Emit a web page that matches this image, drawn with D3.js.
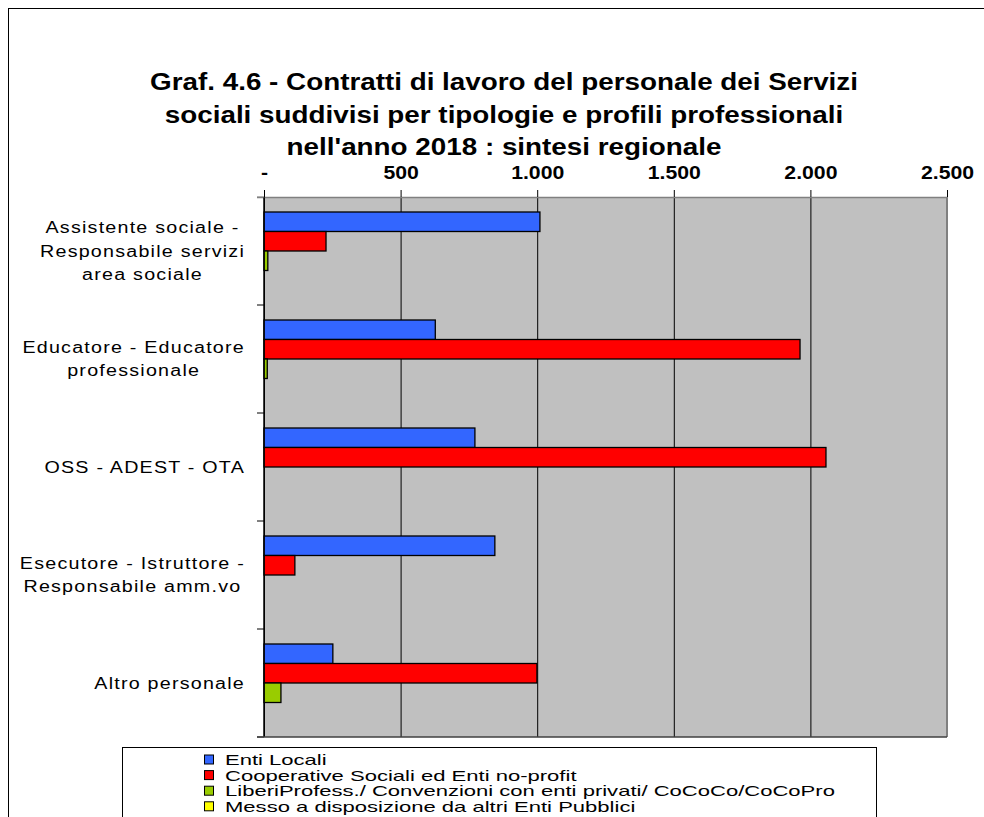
<!DOCTYPE html>
<html>
<head>
<meta charset="utf-8">
<script src="https://cdn.jsdelivr.net/npm/d3@7"></script>
<style>
  body { margin: 0; background: #fff; }
  svg { display: block; font-family: "Liberation Sans", Arial, sans-serif; }
</style>
</head>
<body>
<svg id="chart"></svg>
<script>
// categories (multi-line labels as in the original)
let categories = [
    ['Assistente sociale -', 'Responsabile servizi', 'area sociale'],
    ['Educatore - Educatore', 'professionale'],
    ['OSS - ADEST - OTA'],
    ['Esecutore  - Istruttore  -', 'Responsabile amm.vo'],
    ['Altro personale']
]
let seriesNames = [
    'Enti Locali',
    'Cooperative Sociali ed Enti no-profit',
    'LiberiProfess./ Convenzioni con enti privati/ CoCoCo/CoCoPro',
    'Messo a disposizione da altri Enti Pubblici'
]
let entiLocali = [1010, 627, 772, 845, 252]
let cooperative = [227, 1962, 2057, 113, 999]
let liberiProf = [14, 12, 0, 0, 62]
let messoDisp = [0, 0, 0, 0, 0]
let xTicks = [0, 500, 1000, 1500, 2000, 2500]
let titleLines = [
    'Graf. 4.6 - Contratti di lavoro del personale dei Servizi',
    'sociali suddivisi per tipologie e profili professionali',
    "nell'anno 2018 : sintesi regionale"
]

let colors = ['#3366ff', '#ff0000', '#99cc00', '#ffff00']
let seriesValues = [entiLocali, cooperative, liberiProf, messoDisp]

let width = 984
let height = 817
let plot = {left: 264, right: 947, top: 197, bottom: 737}

let svg = d3.select('#chart').attr('width', width).attr('height', height)

// outer frame of the chart object
svg.append('rect')
   .attr('x', 8.5).attr('y', 8.5)
   .attr('width', 1000).attr('height', 1000)
   .attr('fill', '#fff').attr('stroke', '#000')

// helper: text stretched horizontally like the source picture
let stretchText = (g, x, y, sx, txt) => {
    return g.append('text')
            .attr('transform', 'translate(' + x + ',' + y + ') scale(' + sx + ',1)')
            .text(txt)
}

// title
let titleG = svg.append('g')
               .attr('font-size', 23).attr('font-weight', 'bold')
               .attr('text-anchor', 'middle')
titleLines.forEach((t, i) => {
    stretchText(titleG, 504, 90 + i * 32.5, 1.21, t)
})

// scales
let xScale = d3.scaleLinear().domain([0, 2500]).range([plot.left, plot.right])
let yScale = d3.scaleBand().domain(d3.range(categories.length)).range([plot.top, plot.bottom])
let inner = d3.scaleBand().domain(d3.range(seriesValues.length))
              .range([15, yScale.bandwidth() - 15])

// plot background
svg.append('rect')
   .attr('x', plot.left).attr('y', plot.top)
   .attr('width', plot.right - plot.left).attr('height', plot.bottom - plot.top)
   .attr('fill', '#c0c0c0')

// vertical gridlines
svg.append('g')
   .attr('transform', 'translate(0,' + plot.top + ')')
   .call(d3.axisTop(xScale).tickValues(xTicks).tickSize(-(plot.bottom - plot.top)).tickFormat(''))
   .call(g => g.select('.domain').remove())
   .call(g => g.selectAll('line').attr('stroke', '#000'))

// right and top border of the plot area
svg.append('line')
   .attr('x1', plot.right).attr('x2', plot.right)
   .attr('y1', plot.top).attr('y2', plot.bottom)
   .attr('stroke', '#808080').attr('stroke-width', 2)
svg.append('line')
   .attr('x1', plot.left - 7).attr('x2', plot.right)
   .attr('y1', plot.top + 0.5).attr('y2', plot.top + 0.5)
   .attr('stroke', '#808080').attr('stroke-width', 1.5)

// bars
let rows = []
seriesValues.forEach((vals, s) => {
    vals.forEach((v, c) => {
        if (v > 0) rows.push({s: s, c: c, v: v})
    })
})
svg.append('g').selectAll('rect')
   .data(rows)
   .enter()
   .append('rect')
   .attr('x', xScale(0))
   .attr('y', d => yScale(d.c) + inner(d.s))
   .attr('width', d => xScale(d.v) - xScale(0))
   .attr('height', inner.bandwidth())
   .attr('fill', d => colors[d.s])
   .attr('stroke', '#000').attr('stroke-width', 1.3)

// top axis: ticks and labels
let itFormat = d3.formatLocale({decimal: ',', thousands: '.', grouping: [3], currency: ['€', '']}).format(',d')
let xAxis = d3.axisTop(xScale)
              .tickValues(xTicks)
              .tickSize(7)
              .tickPadding(11)
              .tickFormat(d => d === 0 ? '-' : itFormat(d))
let xAxisG = svg.append('g')
   .attr('transform', 'translate(0,' + plot.top + ')')
   .call(xAxis)
xAxisG.select('.domain').remove()
xAxisG.selectAll('line').attr('stroke', '#000')
xAxisG.selectAll('text')
      .attr('font-size', 18).attr('font-weight', 'bold')
      .attr('font-family', '"Liberation Sans", Arial, sans-serif')
      .attr('fill', '#000')
      .attr('transform', 'scale(1.18,1)')

// left axis line, ticks at category boundaries, and bottom line
svg.append('line')
   .attr('x1', plot.left).attr('x2', plot.left)
   .attr('y1', plot.top).attr('y2', plot.bottom)
   .attr('stroke', '#000').attr('stroke-width', 1.5)
let bounds = d3.range(categories.length + 1).map(i => plot.top + i * yScale.step())
svg.append('g').selectAll('line')
   .data(bounds)
   .enter()
   .append('line')
   .attr('x1', plot.left - 7).attr('x2', plot.left)
   .attr('y1', d => d).attr('y2', d => d)
   .attr('stroke', (d, i) => i === 0 ? '#808080' : '#000')
svg.append('line')
   .attr('x1', plot.left - 7).attr('x2', plot.right)
   .attr('y1', plot.bottom).attr('y2', plot.bottom)
   .attr('stroke', '#404040').attr('stroke-width', 1.5)

// category labels: block centered, right aligned to the axis
let labelG = svg.append('g')
                .attr('font-size', 16).attr('letter-spacing', 1)
                .attr('text-anchor', 'middle').attr('fill', '#000')
let labelSx = 1.23
categories.forEach((lines, c) => {
    let cy = yScale(c) + yScale.bandwidth() / 2
    let lh = 23.5
    let texts = lines.map((t, i) => stretchText(labelG, 0, 0, labelSx, t))
    let maxW = d3.max(texts, t => t.node().getComputedTextLength()) * labelSx
    let cx = 245 - maxW / 2
    texts.forEach((t, i) => {
        let y = cy + (i - (lines.length - 1) / 2) * lh + 5.5
        t.attr('transform', 'translate(' + cx + ',' + y + ') scale(' + labelSx + ',1)')
    })
})

// legend
let legend = svg.append('g')
legend.append('rect')
      .attr('x', 122.5).attr('y', 747.5)
      .attr('width', 754).attr('height', 100)
      .attr('fill', '#fff').attr('stroke', '#000')
seriesNames.forEach((name, i) => {
    let y = 759.5 + i * 15.6
    legend.append('rect')
          .attr('x', 204.5).attr('y', y - 4.5)
          .attr('width', 9).attr('height', 9)
          .attr('fill', colors[i]).attr('stroke', '#000')
    stretchText(legend, 225, y + 5.5, 1.47, name)
        .attr('font-size', 15).attr('fill', '#000')
})
</script>
</body>
</html>
